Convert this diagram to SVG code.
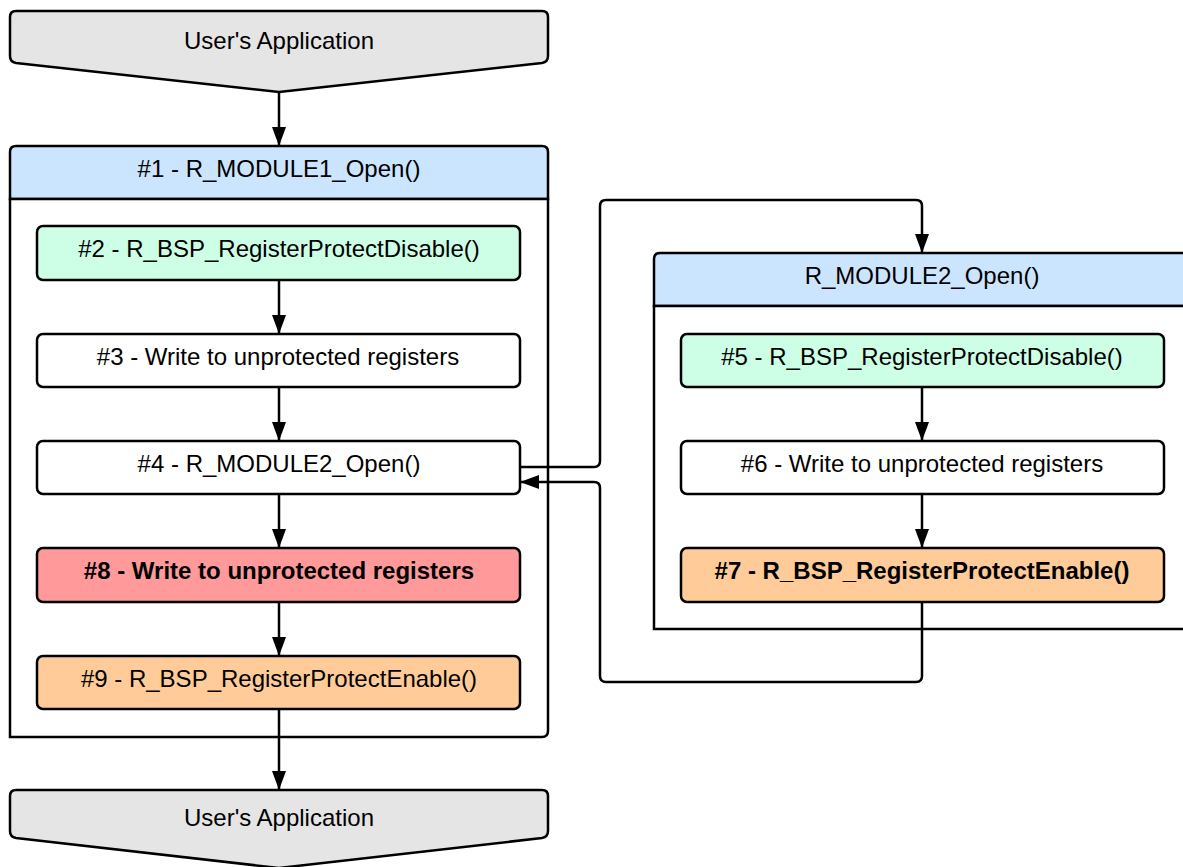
<svg xmlns="http://www.w3.org/2000/svg" width="1183" height="867" viewBox="0 0 1183 867">
<style>
.b{stroke:#000;stroke-width:2.5;}
.t{font-family:"Liberation Sans",Arial,sans-serif;font-size:24px;fill:#000;text-anchor:middle;}
.bold{font-weight:bold;}
.c{fill:none;stroke:#000;stroke-width:2.5;stroke-linejoin:round;}
</style>
<defs>
<marker id="ah" viewBox="0 0 19 14" refX="19" refY="7" markerWidth="19" markerHeight="14" markerUnits="userSpaceOnUse" orient="auto">
<path d="M0,0 L19,7 L0,14 Z" fill="#000"/>
</marker>
</defs>
<rect width="1183" height="867" fill="#fff"/>

<g id="app-top">
<path class="b" fill="#e5e5e5" d="M16,11 H542 Q548,11 548,17 V56 Q548,62 542,63 L279,92 L16,63 Q10,62 10,56 V17 Q10,11 16,11 Z"/>
<text class="t" x="279" y="49">User's Application</text>
</g>

<g id="module1">
<path class="b" fill="#cce5ff" d="M10,199 V152 Q10,146 16,146 H542 Q548,146 548,152 V199 Z"/>
<path class="b" fill="#fff" d="M10,199 H548 V731 Q548,737 542,737 H10 Z"/>
<text class="t" x="279" y="177">#1 - R_MODULE1_Open()</text>
</g>

<g id="n2"><rect class="b" x="37" y="226" width="483" height="54" rx="6" fill="#ccffe6"/><text class="t" x="279" y="257">#2 - R_BSP_RegisterProtectDisable()</text></g>
<g id="n3"><rect class="b" x="37" y="334" width="483" height="53" rx="6" fill="#fff"/><text class="t" x="278" y="365">#3 - Write to unprotected registers</text></g>
<g id="n4"><rect class="b" x="37" y="441" width="483" height="53" rx="6" fill="#fff"/><text class="t" x="279" y="472">#4 - R_MODULE2_Open()</text></g>
<g id="n8"><rect class="b" x="37" y="548" width="483" height="54" rx="6" fill="#ff999a"/><text class="t bold" x="279" y="579">#8 - Write to unprotected registers</text></g>
<g id="n9"><rect class="b" x="37" y="656" width="483" height="53" rx="6" fill="#ffcc99"/><text class="t" x="279" y="687">#9 - R_BSP_RegisterProtectEnable()</text></g>

<g id="module2">
<path class="b" fill="#cce5ff" d="M654,306 V259 Q654,253 660,253 H1190 V306 Z"/>
<path class="b" fill="#fff" d="M654,306 H1190 V629 H654 Z"/>
<text class="t" x="922" y="284">R_MODULE2_Open()</text>
</g>

<g id="n5"><rect class="b" x="681" y="334" width="483" height="53" rx="6" fill="#ccffe6"/><text class="t" x="922" y="365">#5 - R_BSP_RegisterProtectDisable()</text></g>
<g id="n6"><rect class="b" x="681" y="441" width="483" height="53" rx="6" fill="#fff"/><text class="t" x="922" y="472">#6 - Write to unprotected registers</text></g>
<g id="n7"><rect class="b" x="681" y="548" width="483" height="54" rx="6" fill="#ffcc99"/><text class="t bold" x="922" y="579">#7 - R_BSP_RegisterProtectEnable()</text></g>

<g id="app-bottom">
<path class="b" fill="#e5e5e5" d="M16,790 H542 Q548,790 548,796 V831 Q548,837 542,838 L279,868 L16,838 Q10,837 10,831 V796 Q10,790 16,790 Z"/>
<text class="t" x="279" y="826">User's Application</text>
</g>

<g id="connectors">
<path class="c" d="M279,92 V146" marker-end="url(#ah)"/>
<path class="c" d="M279,280 V334" marker-end="url(#ah)"/>
<path class="c" d="M279,387 V441" marker-end="url(#ah)"/>
<path class="c" d="M279,494 V548" marker-end="url(#ah)"/>
<path class="c" d="M279,602 V656" marker-end="url(#ah)"/>
<path class="c" d="M279,709 V790" marker-end="url(#ah)"/>
<path class="c" d="M922,387 V441" marker-end="url(#ah)"/>
<path class="c" d="M922,494 V548" marker-end="url(#ah)"/>
<path class="c" d="M520,467 H594 Q600,467 600,461 V206 Q600,200 606,200 H916 Q922,200 922,206 V253" marker-end="url(#ah)"/>
<path class="c" d="M922,602 V676 Q922,682 916,682 H606 Q600,682 600,676 V488 Q600,482 594,482 H520" marker-end="url(#ah)"/>
</g>
</svg>
